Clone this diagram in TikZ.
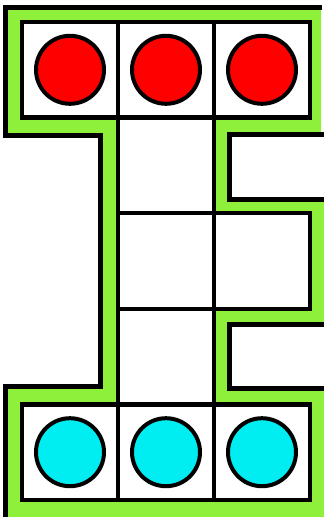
\documentclass[tikz,border=0pt]{standalone}
\usepackage{xcolor}
\usepackage{tikz}
\usetikzlibrary{positioning}
\definecolor{GrLime}{HTML}{8EF03A}
\definecolor{GrRed}{HTML}{FF0000}
\definecolor{GrCyan}{HTML}{00EEF2}
\tikzset{
  cellbox/.style={
    rectangle,
    draw=black,
    line width=4.5pt,
    fill=white,
    inner sep=0pt,
    outer sep=0pt,
    minimum width=96pt,
    minimum height=95.6pt
  },
  token/.style={circle,draw=black,line width=4pt,inner sep=0pt,minimum size=68pt},
  redtoken/.style={token,fill=GrRed},
  cyantoken/.style={token,fill=GrCyan},
  rimline/.style={draw=black,line width=5pt},
}
\begin{document}
\begin{tikzpicture}[x=1pt,y=-1pt]
  \useasboundingbox (0,0) rectangle (324,517);

  % green rim round the board
  \fill[GrLime] (5.5,7.5) -- (321,7.5) -- (321,134) -- (229,134) -- (229,199)
    -- (324,199) -- (324,324) -- (229,324) -- (229,388) -- (324,388)
    -- (324,517) -- (5.5,517) -- (5.5,386) -- (100,386) -- (100,135)
    -- (5.5,135) -- cycle;

  % board cells
  \node[cellbox] (c11) at (70,69.8) {};
  \node[cellbox,right=0pt of c11] (c12) {};
  \node[cellbox,right=0pt of c12] (c13) {};
  \node[cellbox,below=0pt of c12] (c22) {};
  \node[cellbox,below=0pt of c22] (c32) {};
  \node[cellbox,right=0pt of c32] (c33) {};
  \node[cellbox,below=0pt of c32] (c42) {};
  \node[cellbox,below=0pt of c42] (c52) {};
  \node[cellbox,left=0pt of c52] (c51) {};
  \node[cellbox,right=0pt of c52] (c53) {};

  % tokens
  \node[redtoken] (r1) at (c11) {};
  \node[redtoken] (r2) at (c12) {};
  \node[redtoken] (r3) at (c13) {};
  \node[cyantoken] (b1) at (c51) {};
  \node[cyantoken] (b2) at (c52) {};
  \node[cyantoken] (b3) at (c53) {};

  % outer edge of the rim
  \draw[rimline] (322,7.5) -- (5.5,7.5) -- (5.5,135) -- (100,135) -- (100,386)
    -- (5.5,386) -- (5.5,517);
  \draw[rimline] (324,134) -- (229,134) -- (229,199) -- (324,199);
  \draw[rimline] (324,324) -- (229,324) -- (229,388) -- (324,388);
\end{tikzpicture}
\end{document}
